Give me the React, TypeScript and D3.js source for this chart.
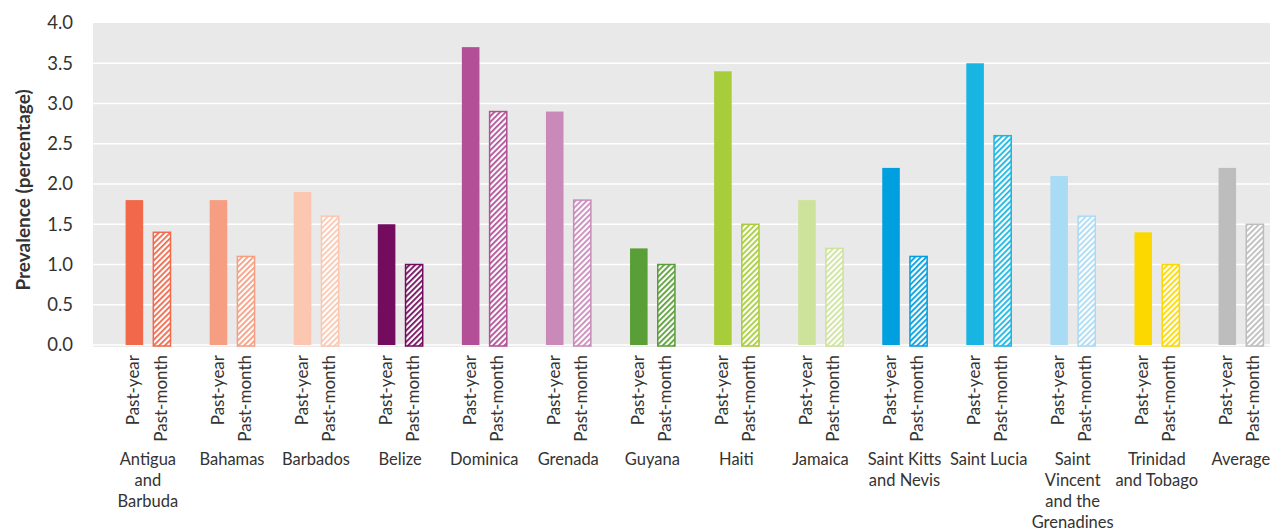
import React from "react";
import * as d3 from "d3";

const countries = [
  "Antigua and Barbuda", "Bahamas", "Barbados", "Belize", "Dominica", "Grenada", "Guyana",
  "Haiti", "Jamaica", "Saint Kitts and Nevis", "Saint Lucia",
  "Saint Vincent and the Grenadines", "Trinidad and Tobago", "Average",
];
const countryLines = [
  ["Antigua", "and", "Barbuda"], ["Bahamas"], ["Barbados"], ["Belize"], ["Dominica"], ["Grenada"],
  ["Guyana"], ["Haiti"], ["Jamaica"], ["Saint Kitts", "and Nevis"], ["Saint Lucia"],
  ["Saint", "Vincent", "and the", "Grenadines"], ["Trinidad", "and Tobago"], ["Average"],
];
const series = ["Past-year", "Past-month"];
const pastYear = [1.8, 1.8, 1.9, 1.5, 3.7, 2.9, 1.2, 3.4, 1.8, 2.2, 3.5, 2.1, 1.4, 2.2];
const pastMonth = [1.4, 1.1, 1.6, 1.0, 2.9, 1.8, 1.0, 1.5, 1.2, 1.1, 2.6, 1.6, 1.0, 1.5];
const colors = [
  "#F1684A", "#F59E82", "#FBC7B0", "#730C5E", "#B24F97", "#C98ABA", "#5A9E38",
  "#A7CD3A", "#CDE39B", "#009FDF", "#18B5E3", "#AADBF4", "#FCD800", "#BDBDBD",
];
const yTicks = [0, 0.5, 1.0, 1.5, 2.0, 2.5, 3.0, 3.5, 4.0];

const W = 1274, H = 530;
const plot = { left: 93, right: 1270, top: 23, bottom: 345 };
const FONT = "Lato, 'Open Sans', sans-serif";
const TEXT = "#333";

export default function App() {
  const x = d3.scaleBand<string>().domain(countries).range([plot.left, plot.right]);
  const inner = d3.scaleBand<string>().domain(series).range([32.6, 77.2]).paddingInner(0.35).paddingOuter(0);
  const y = d3.scaleLinear().domain([0, 4]).range([plot.bottom, plot.top]);
  const values = [pastYear, pastMonth];
  const bw = inner.bandwidth();

  return (
    <svg width={W} height={H} style={{ position: "absolute", left: 0, top: 0, fontFamily: FONT }}>
      <defs>
        {colors.map((c, i) => (
          <pattern key={i} id={`hatch${i}`} patternUnits="userSpaceOnUse" width={4} height={4}
            patternTransform="rotate(45)">
            <rect width={4} height={4} fill="#fff" />
            <line x1={0} y1={0} x2={0} y2={4} stroke={c} strokeWidth={3.6} />
          </pattern>
        ))}
      </defs>
      <rect x={plot.left} y={plot.top} width={plot.right - plot.left} height={plot.bottom - plot.top + 2} fill="#E9E9E9" />
      {yTicks.filter((t) => t < 4).map((t) => (
        <line key={t} x1={plot.left} x2={plot.right} y1={y(t)} y2={y(t)} stroke="#fff" strokeWidth={1.6} />
      ))}
      {yTicks.map((t) => (
        <text key={t} x={73} y={y(t)} dy="0.35em" textAnchor="end" fontSize={18.5} fill={TEXT}>
          {d3.format(".1f")(t)}
        </text>
      ))}
      <text transform={`translate(23,${(plot.top + plot.bottom) / 2 + 6}) rotate(-90)`} textAnchor="middle"
        dy="0.35em" fontSize={19} fontWeight="bold" fill={TEXT}>
        Prevalence (percentage)
      </text>
      {countries.map((c, i) => {
        const x0 = x(c)!;
        const labelX = x0 + inner("Past-year")! + (inner("Past-month")! + bw - inner("Past-year")!) / 2;
        return (
          <g key={c}>
            {series.map((s, j) => {
              const v = values[j][i];
              const bx = x0 + inner(s)!;
              if (j === 0) {
                return <rect key={s} x={bx} y={y(v)} width={bw} height={y(0) - y(v)} fill={colors[i]} />;
              }
              return (
                <rect key={s} x={bx + 0.7} y={y(v)} width={bw - 0.4} height={y(0) - y(v) + 1}
                  fill={`url(#hatch${i})`} stroke={colors[i]} strokeWidth={1.5} />
              );
            })}
            {series.map((s) => {
              const cx = x0 + inner(s)! + bw / 2;
              return (
                <text key={s} transform={`translate(${cx},355) rotate(-90)`} textAnchor="end" dy="0.3em"
                  fontSize={17} fill={TEXT}>
                  {s}
                </text>
              );
            })}
            <text x={labelX} y={465} textAnchor="middle" fontSize={16.5} fill={TEXT}>
              {countryLines[i].map((ln, k) => (
                <tspan key={k} x={labelX} dy={k === 0 ? 0 : 21}>
                  {ln}
                </tspan>
              ))}
            </text>
          </g>
        );
      })}
    </svg>
  );
}
